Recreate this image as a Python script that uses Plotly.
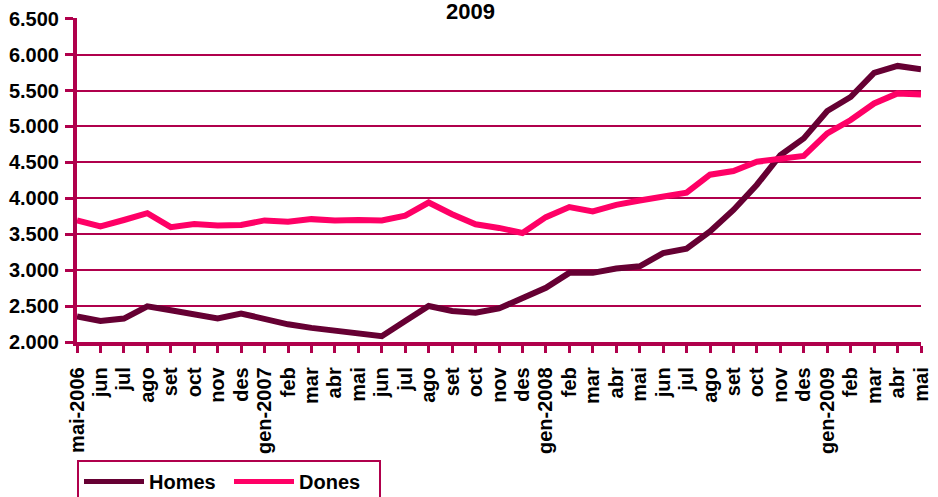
import plotly.graph_objects as go

months = ["mai-2006", "jun", "jul", "ago", "set", "oct", "nov", "des",
          "gen-2007", "feb", "mar", "abr", "mai", "jun", "jul", "ago", "set", "oct", "nov", "des",
          "gen-2008", "feb", "mar", "abr", "mai", "jun", "jul", "ago", "set", "oct", "nov", "des",
          "gen-2009", "feb", "mar", "abr", "mai"]

homes = [2360, 2295, 2330, 2500, 2445, 2395, 2330, 2400,
         2320, 2250, 2200, 2165, 2110, 2085, 2295, 2505, 2435, 2410, 2470, 2610,
         2757, 2965, 2965, 3025, 3057, 3240, 3300, 3540, 3840, 4190, 4600, 4835,
         5215, 5410, 5745, 5842, 5795]

dones = [3694, 3610, 3700, 3795, 3600, 3645, 3625, 3630,
         3694, 3675, 3712, 3694, 3700, 3694, 3760, 3943, 3780, 3640, 3590, 3520,
         3740, 3880, 3820, 3910, 3970, 4020, 4080, 4330, 4380, 4510, 4555, 4590,
         4905, 5090, 5320, 5460, 5445]

y_ticks = [2000, 2500, 3000, 3500, 4000, 4500, 5000, 5500, 6000, 6500]

idx = list(range(len(months)))
AX = "#B0004C"
FONT = "Liberation Sans, Arial, sans-serif"

fig = go.Figure()
fig.add_trace(go.Scatter(x=idx, y=homes, mode="lines", name="<b>Homes</b>",
                         line=dict(color="#660033", width=6)))
fig.add_trace(go.Scatter(x=idx, y=dones, mode="lines", name="<b>Dones</b>",
                         line=dict(color="#FF0066", width=6)))

fig.update_layout(
    width=938, height=497,
    margin=dict(l=77, r=6, t=18, b=154),
    paper_bgcolor="white", plot_bgcolor="white",
    font=dict(family=FONT, size=20, color="black"),
    showlegend=True,
    legend=dict(orientation="h", x=0, xanchor="left",
                yref="container", y=(497 - 460) / 497, yanchor="top",
                bordercolor=AX, borderwidth=2, bgcolor="white",
                font=dict(family=FONT, size=20, color="black"),
                itemwidth=60, entrywidth=75, entrywidthmode="pixels",
                tracegroupgap=0, itemsizing="constant"),
    annotations=[dict(text="<b>2009</b>", x=(476 - 77) / (932 - 77), xref="paper",
                      y=1.0, yref="paper", showarrow=False,
                      font=dict(family=FONT, size=22, color="black"),
                      yanchor="middle", yshift=7)],
)

fig.update_xaxes(
    range=[0, len(months) - 1],
    tickmode="array", tickvals=idx, ticktext=["<b>%s</b>" % m for m in months],
    tickangle=-90, ticks="outside", ticklen=7, tickwidth=3, tickcolor=AX,
    showline=True, linecolor=AX, linewidth=4, showgrid=False, zeroline=False,
    ticklabelstandoff=6, ticklabeloverflow="allow",
    tickfont=dict(family=FONT, size=20, color="black"),
)
fig.update_yaxes(
    range=[2000, 6508], tickmode="array", tickvals=y_ticks,
    ticktext=["<b>%s</b>" % f"{v:,}".replace(",", ".") for v in y_ticks],
    ticks="outside", ticklen=8, tickwidth=3, tickcolor=AX,
    showline=True, linecolor=AX, linewidth=4,
    showgrid=True, gridcolor=AX, gridwidth=2, zeroline=False,
    ticklabelstandoff=2,
    tickfont=dict(family=FONT, size=20, color="black"),
)

fig.write_html("out.html", config={"displayModeBar": False},
               post_script="document.body.style.margin='0';document.body.style.overflow='hidden';")
